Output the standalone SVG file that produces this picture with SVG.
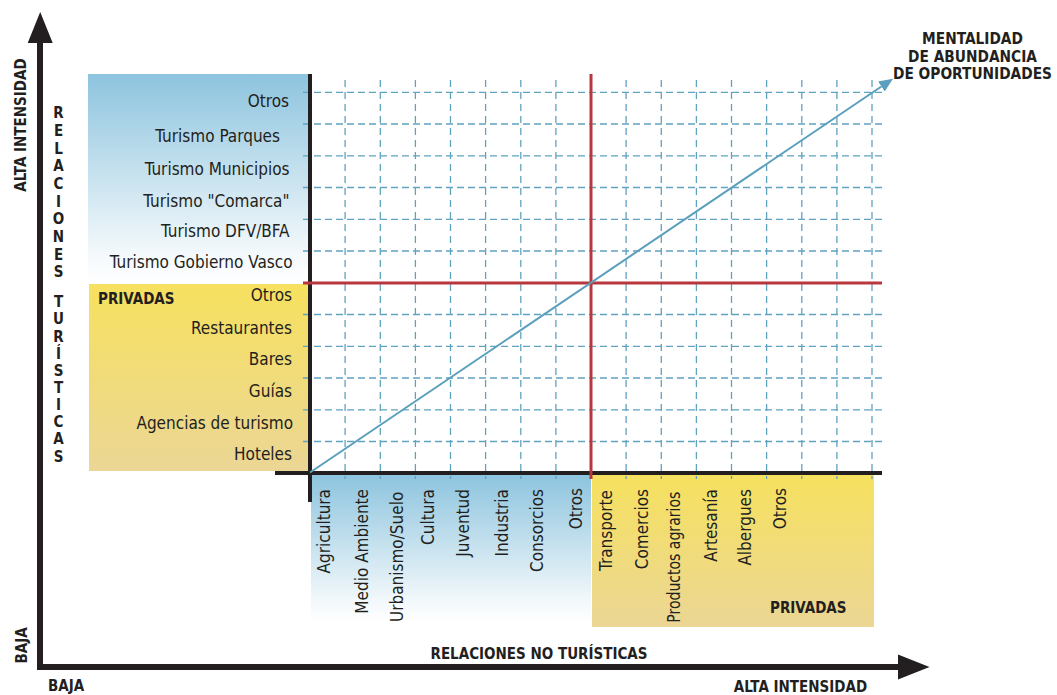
<svg xmlns="http://www.w3.org/2000/svg" width="1057" height="695" viewBox="0 0 1057 695">
<style>
text{font-family:"DejaVu Sans Condensed","DejaVu Sans",sans-serif;font-stretch:condensed;fill:#231f20}
.lbl{font-size:17px}
.end{text-anchor:end}
.b{font-weight:bold;font-size:15px}
.m{font-size:15.3px}
.mid{text-anchor:middle}
.vl{font-weight:bold;font-size:15px;text-anchor:middle}
.gh{stroke:#5fa3c0;stroke-width:1.3;stroke-dasharray:7 4;fill:none}
.gv{stroke:#5fa3c0;stroke-width:1.3;stroke-dasharray:7 5;fill:none}
.red{stroke:#b8363d;stroke-width:3;fill:none}
.blk{stroke:#231f20;stroke-width:4;fill:none}
.axis{stroke:#231f20;stroke-width:6;fill:none}
</style>
<defs>
<linearGradient id="gBlue" x1="0" y1="0" x2="0" y2="1">
<stop offset="0" stop-color="#8dc4de"/>
<stop offset="0.85" stop-color="#f2f8fb"/>
<stop offset="1" stop-color="#ffffff"/>
</linearGradient>
<linearGradient id="gYellow" x1="0" y1="0" x2="0" y2="1">
<stop offset="0" stop-color="#f6e15f"/>
<stop offset="1" stop-color="#ebd695"/>
</linearGradient>
<marker id="arrowBlue" markerUnits="userSpaceOnUse" markerWidth="14" markerHeight="12" refX="0" refY="6" orient="auto" viewBox="0 0 14 12">
<path d="M0,0 L14,6 L0,12 z" fill="#5a9fbb"/>
</marker>
</defs>

<g id="panels">
<rect x="88" y="74" width="220" height="208" fill="url(#gBlue)"/>
<rect x="89" y="284" width="219" height="187" fill="url(#gYellow)"/>
<rect x="311" y="475" width="280" height="147" fill="url(#gBlue)"/>
<rect x="592" y="475" width="282" height="152" fill="url(#gYellow)"/>
</g>

<g id="grid">
<path class="gh" d="M303,92.3H882M303,124H882M303,155.8H882M303,187.5H882M303,219.3H882M303,251H882M303,314.5H882M303,346.3H882M303,378H882M303,409.8H882M303,441.5H882"/>
<path class="gv" d="M345.1,80V479M380.3,80V479M415.4,80V479M450.5,80V479M485.6,80V479M520.8,80V479M555.9,80V479M626.1,80V479M661.3,80V479M696.4,80V479M731.5,80V479M766.6,80V479M801.8,80V479M836.9,80V479M872,80V479"/>
</g>

<g id="connectors">
<path class="blk" d="M310,74V502"/>
<path class="blk" d="M275,473H882"/>
<path class="red" d="M591,74V479"/>
<path class="red" d="M303,283H882"/>
<line x1="310" y1="472.5" x2="881.4" y2="86.5" stroke="#5a9fbb" stroke-width="2" marker-end="url(#arrowBlue)"/>
<path class="axis" d="M40,42V667H898"/>
<polygon points="27.7,43 40.2,12 52.7,43" fill="#231f20"/>
<polygon points="898,654.5 929.5,667 898,679.5" fill="#231f20"/>
</g>

<g id="axis-labels">
<text class="b" transform="translate(26,125) rotate(-90)" text-anchor="middle">ALTA INTENSIDAD</text>
<text class="b" transform="translate(27,645.5) rotate(-90)" text-anchor="middle">BAJA</text>
<text class="b" x="48" y="690.5">BAJA</text>
<text class="b mid" x="800.5" y="692">ALTA INTENSIDAD</text>
<text class="b mid" x="539" y="659">RELACIONES NO TURÍSTICAS</text>
<text class="b m mid" x="972.5" y="43.5">MENTALIDAD</text>
<text class="b m mid" x="972.5" y="61.5">DE ABUNDANCIA</text>
<text class="b m mid" x="972.5" y="79">DE OPORTUNIDADES</text>
</g>

<g id="vertical-title">
<text class="vl" x="58.5" y="118.2">R</text>
<text class="vl" x="58.5" y="135.9">E</text>
<text class="vl" x="58.5" y="153.5">L</text>
<text class="vl" x="58.5" y="171.2">A</text>
<text class="vl" x="58.5" y="188.9">C</text>
<text class="vl" x="58.5" y="206.5">I</text>
<text class="vl" x="58.5" y="224.2">O</text>
<text class="vl" x="58.5" y="241.9">N</text>
<text class="vl" x="58.5" y="259.5">E</text>
<text class="vl" x="58.5" y="277.2">S</text>
<text class="vl" x="58.5" y="307.2">T</text>
<text class="vl" x="58.5" y="324.3">U</text>
<text class="vl" x="58.5" y="341.5">R</text>
<text class="vl" x="58.5" y="358.6">Í</text>
<text class="vl" x="58.5" y="375.8">S</text>
<text class="vl" x="58.5" y="392.9">T</text>
<text class="vl" x="58.5" y="410">I</text>
<text class="vl" x="58.5" y="427.2">C</text>
<text class="vl" x="58.5" y="444.3">A</text>
<text class="vl" x="58.5" y="461.5">S</text>
</g>

<g id="public-tourism">
<text class="lbl end" x="289" y="107">Otros</text>
<text class="lbl end" x="280" y="141.5">Turismo Parques</text>
<text class="lbl end" x="289.5" y="175">Turismo Municipios</text>
<text class="lbl end" x="289.5" y="207">Turismo "Comarca"</text>
<text class="lbl end" x="289.5" y="237">Turismo DFV/BFA</text>
<text class="lbl end" x="292.5" y="268">Turismo Gobierno Vasco</text>
</g>

<g id="private-tourism">
<text class="b" x="98" y="304">PRIVADAS</text>
<text class="lbl end" x="292" y="301">Otros</text>
<text class="lbl end" x="292" y="334">Restaurantes</text>
<text class="lbl end" x="292" y="364.5">Bares</text>
<text class="lbl end" x="292" y="397">Guías</text>
<text class="lbl end" x="293" y="429">Agencias de turismo</text>
<text class="lbl end" x="292" y="460">Hoteles</text>
</g>

<g id="public-non-tourism">
<text class="lbl end" transform="translate(330,489) rotate(-90)">Agricultura</text>
<text class="lbl end" transform="translate(367.7,489) rotate(-90)">Medio Ambiente</text>
<text class="lbl end" transform="translate(402.7,491.7) rotate(-90)">Urbanismo/Suelo</text>
<text class="lbl end" transform="translate(434,489) rotate(-90)">Cultura</text>
<text class="lbl end" transform="translate(469,489) rotate(-90)">Juventud</text>
<text class="lbl end" transform="translate(507.7,489) rotate(-90)">Industria</text>
<text class="lbl end" transform="translate(542.7,489) rotate(-90)">Consorcios</text>
<text class="lbl end" transform="translate(581.7,488) rotate(-90)">Otros</text>
</g>

<g id="private-non-tourism">
<text class="lbl end" transform="translate(612.3,490) rotate(-90)">Transporte</text>
<text class="lbl end" transform="translate(647.7,489) rotate(-90)">Comercios</text>
<text class="lbl end" transform="translate(680,491.7) rotate(-90)" textLength="131" lengthAdjust="spacingAndGlyphs">Productos agrarios</text>
<text class="lbl end" transform="translate(716.7,489) rotate(-90)">Artesanía</text>
<text class="lbl end" transform="translate(751,489) rotate(-90)">Albergues</text>
<text class="lbl end" transform="translate(786,488) rotate(-90)">Otros</text>
<text class="b" x="770" y="612.7">PRIVADAS</text>
</g>
</svg>
